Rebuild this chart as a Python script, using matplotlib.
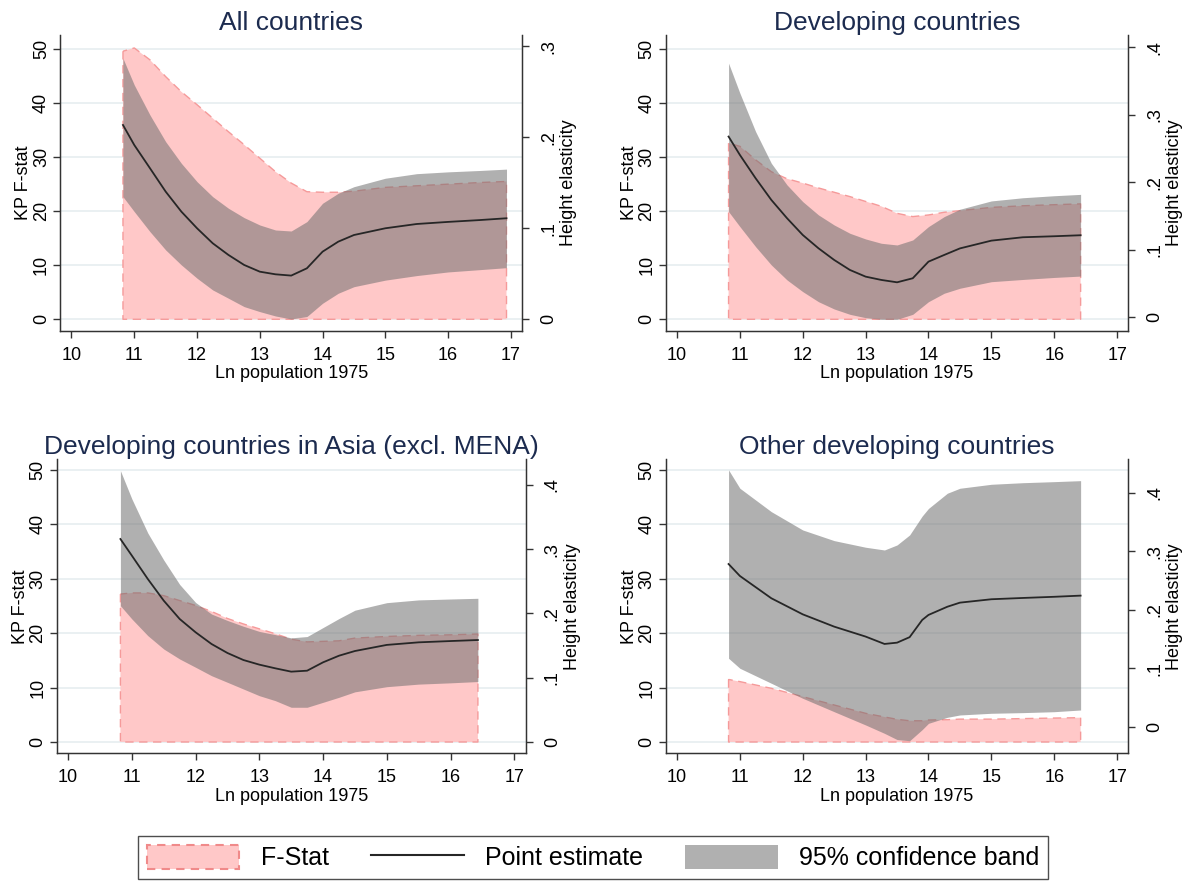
import matplotlib
matplotlib.use("Agg")
import matplotlib.pyplot as plt
from matplotlib.patches import Patch
from matplotlib.lines import Line2D

plt.rcParams['font.family'] = ['Liberation Sans', 'DejaVu Sans']

# --- data ---
titles = ["All countries", "Developing countries",
          "Developing countries in Asia (excl. MENA)", "Other developing countries"]

# All countries
x1 = [10.82, 11.0, 11.25, 11.5, 11.75, 12.0, 12.25, 12.5, 12.75, 13.0, 13.25, 13.5, 13.75,
      14.0, 14.25, 14.5, 15.0, 15.5, 16.0, 16.5, 16.93]
f1 = [49.6, 50.2, 48.0, 44.9, 42.1, 39.7, 37.2, 34.7, 32.3, 29.8, 27.3, 25.2, 23.6,
      23.5, 23.5, 23.7, 24.4, 24.7, 25.0, 25.3, 25.5]
p1 = [0.2135, 0.1915, 0.166, 0.1403, 0.1183, 0.100, 0.0835, 0.0707, 0.0597, 0.0523, 0.0494, 0.048, 0.056,
      0.0743, 0.0853, 0.0926, 0.100, 0.1047, 0.107, 0.109, 0.111]
up1 = [0.2868, 0.2575, 0.2245, 0.1952, 0.1714, 0.1512, 0.1347, 0.122, 0.1117, 0.1036, 0.0981, 0.097, 0.1073,
       0.1275, 0.1385, 0.1457, 0.155, 0.160, 0.162, 0.1635, 0.165]
lo1 = [0.1347, 0.1183, 0.0963, 0.0762, 0.0597, 0.0451, 0.0322, 0.0231, 0.0139, 0.0084, 0.0036, 0.0003, 0.003,
       0.0176, 0.0286, 0.0358, 0.043, 0.048, 0.052, 0.0545, 0.0567]

# Developing countries
x2 = [10.82, 11.0, 11.25, 11.5, 11.75, 12.0, 12.25, 12.5, 12.75, 13.0, 13.25, 13.5, 13.75,
      14.0, 14.25, 14.5, 15.0, 15.5, 16.0, 16.42]
f2 = [32.6, 32.0, 29.5, 27.3, 26.0, 25.2, 24.3, 23.5, 22.7, 21.8, 20.9, 19.6, 19.0,
      19.3, 19.8, 20.1, 20.7, 21.0, 21.2, 21.35]
p2 = [0.2676, 0.2404, 0.2059, 0.1738, 0.1467, 0.1219, 0.1022, 0.0849, 0.0701, 0.0602, 0.0553, 0.0518, 0.0578,
      0.0824, 0.0923, 0.102, 0.1135, 0.1185, 0.120, 0.1215]
up2 = [0.3763, 0.3319, 0.275, 0.2281, 0.196, 0.1713, 0.1516, 0.1367, 0.1244, 0.116, 0.1096, 0.1071, 0.1145,
       0.1343, 0.1491, 0.160, 0.1723, 0.177, 0.180, 0.182]
lo2 = [0.1565, 0.1343, 0.1046, 0.0775, 0.0553, 0.038, 0.0231, 0.0123, 0.0044, -0.0006, -0.003, -0.003, 0.0044,
       0.0231, 0.0356, 0.043, 0.0527, 0.056, 0.059, 0.061]

# Developing countries in Asia
x3 = [10.82, 11.0, 11.25, 11.5, 11.75, 12.0, 12.25, 12.5, 12.75, 13.0, 13.25, 13.5, 13.75,
      14.0, 14.25, 14.5, 15.0, 15.5, 16.0, 16.43]
f3 = [27.2, 27.4, 27.4, 26.9, 26.0, 25.1, 24.0, 22.7, 21.7, 20.8, 19.9, 18.9, 18.4,
      18.5, 18.6, 19.1, 19.4, 19.6, 19.7, 19.85]
p3 = [0.3157, 0.2898, 0.2535, 0.2198, 0.1913, 0.1706, 0.1524, 0.1384, 0.1275, 0.1203, 0.1146, 0.1094, 0.1109,
      0.1239, 0.1342, 0.1415, 0.151, 0.155, 0.157, 0.1586]
up3 = [0.422, 0.378, 0.325, 0.283, 0.245, 0.217, 0.199, 0.189, 0.180, 0.172, 0.167, 0.162, 0.164,
       0.178, 0.192, 0.205, 0.2167, 0.221, 0.2224, 0.2235]
lo3 = [0.212, 0.1913, 0.1654, 0.1446, 0.1291, 0.1162, 0.1031, 0.0928, 0.0824, 0.072, 0.0643, 0.054, 0.054,
       0.0617, 0.0695, 0.078, 0.086, 0.090, 0.092, 0.094]

# Other developing countries
x4 = [10.82, 11.0, 11.5, 12.0, 12.5, 13.0, 13.3, 13.5, 13.7, 13.9, 14.0, 14.3, 14.5, 15.0, 15.5, 16.0, 16.42]
f4 = [11.5, 11.1, 9.87, 8.33, 6.8, 5.27, 4.6, 4.17, 3.9, 3.9, 4.04, 4.1, 4.2, 4.2, 4.3, 4.4, 4.47]
p4 = [0.278, 0.2576, 0.2195, 0.192, 0.171, 0.154, 0.1414, 0.1436, 0.153, 0.1824, 0.191, 0.205, 0.212,
      0.2178, 0.220, 0.222, 0.224]
up4 = [0.4388, 0.4075, 0.3675, 0.3362, 0.318, 0.3067, 0.302, 0.3106, 0.3277, 0.36, 0.373, 0.399, 0.4075,
       0.4143, 0.417, 0.4188, 0.4205]
lo4 = [0.1169, 0.0998, 0.0742, 0.0485, 0.0256, 0.0029, -0.0114, -0.022, -0.024, -0.005, 0.0057, 0.016, 0.020,
       0.0229, 0.024, 0.0256, 0.0285]

xticks = [10, 11, 12, 13, 14, 15, 16, 17]
fticks = [0, 10, 20, 30, 40, 50]
eticks = [[0, 0.1, 0.2, 0.3], [0, 0.1, 0.2, 0.3, 0.4], [0, 0.1, 0.2, 0.3, 0.4], [0, 0.1, 0.2, 0.3, 0.4]]
elabels = [["0", ".1", ".2", ".3"], ["0", ".1", ".2", ".3", ".4"],
           ["0", ".1", ".2", ".3", ".4"], ["0", ".1", ".2", ".3", ".4"]]

# --- layout (pixels) ---
W, H = 1184, 882
boxes = [(60.2, 522.2, 35, 331), (665.7, 1128.4, 35, 331),
         (56.7, 525.7, 459.3, 753.3), (665.7, 1128.4, 459.3, 753.3)]
flims = [(-2.17, 52.6), (-2.17, 52.6), (-2.08, 51.97), (-2.08, 51.97)]
elims = [(-0.0129, 0.3124), (-0.0203, 0.418), (-0.0176, 0.4397), (-0.0455, 0.457)]

pink = '#ffc8c8'
pink_edge = '#f59a9a'
band = '#707070'
navy = '#1c2b4f'
spine_c = '#333333'
fs = 13

fig = plt.figure(figsize=(W / 100, H / 100), dpi=100)

data = [(x1, f1, p1, up1, lo1), (x2, f2, p2, up2, lo2),
        (x3, f3, p3, up3, lo3), (x4, f4, p4, up4, lo4)]

for i, (x, f, p, up, lo) in enumerate(data):
    l, r, t, b = boxes[i]
    ax = fig.add_axes([l / W, 1 - b / H, (r - l) / W, (b - t) / H])
    ax.set_xlim(9.82, 17.18)
    ax.set_ylim(*flims[i])
    ax.set_yticks(fticks)
    ax.set_xticks(xticks)
    ax.grid(axis='y', color='#e6eef0', linewidth=1.2, zorder=0)
    ax.set_axisbelow(True)
    ax.fill_between(x, 0, f, facecolor=pink, edgecolor=pink_edge,
                    linestyle=(0, (6, 4)), linewidth=1.0, zorder=2)
    ax.spines['top'].set_visible(False)
    for s in ['left', 'bottom', 'right']:
        ax.spines[s].set_color(spine_c)
        ax.spines[s].set_linewidth(1.0)
    ax.tick_params(axis='both', direction='out', length=5, width=1, color=spine_c,
                   labelsize=fs)
    ax.tick_params(axis='x', pad=6.5)
    ax.tick_params(axis='y', labelrotation=90, pad=2.3)
    for lbl in ax.get_yticklabels():
        lbl.set_va('center')
    ax.set_ylabel('KP F-stat', fontsize=fs, labelpad=0.5)
    ax.set_xlabel('Ln population 1975', fontsize=fs, labelpad=1)
    ax.set_title(titles[i], fontsize=19, color=navy, pad=3.5)

    ax2 = ax.twinx()
    ax2.set_ylim(*elims[i])
    ax2.set_yticks(eticks[i])
    ax2.set_yticklabels(elabels[i])
    ax2.fill_between(x, lo, up, color=band, alpha=0.55, linewidth=0, zorder=3)
    ax2.plot(x, p, color='#262626', linewidth=1.3, zorder=4)
    ax2.spines['top'].set_visible(False)
    for s in ['left', 'bottom', 'right']:
        ax2.spines[s].set_color(spine_c)
    ax2.tick_params(axis='y', direction='out', length=5, width=1, color=spine_c,
                    labelsize=fs, pad=8, labelrotation=90)
    for lbl in ax2.get_yticklabels():
        lbl.set_va('center')
    ax2.set_ylabel('Height elasticity', fontsize=fs, labelpad=2)

handles = [Patch(facecolor=pink, edgecolor='#f08a8a', linestyle=(0, (4, 3)), linewidth=1.5),
           Line2D([0], [0], color='#262626', linewidth=1.5),
           Patch(facecolor='#b0b0b0', edgecolor='none')]
leg = fig.legend(handles, ['F-Stat', 'Point estimate', '95% confidence band'],
                 loc='upper center', bbox_to_anchor=(0.501, 0.052), ncol=3,
                 fontsize=18, frameon=True, fancybox=False, edgecolor='#222222',
                 handlelength=3.7, handleheight=1.1, handletextpad=0.85,
                 columnspacing=1.7, borderpad=0.35, borderaxespad=0)
leg.get_frame().set_linewidth(1.0)

fig.savefig('out.png', dpi=100, facecolor='white')
